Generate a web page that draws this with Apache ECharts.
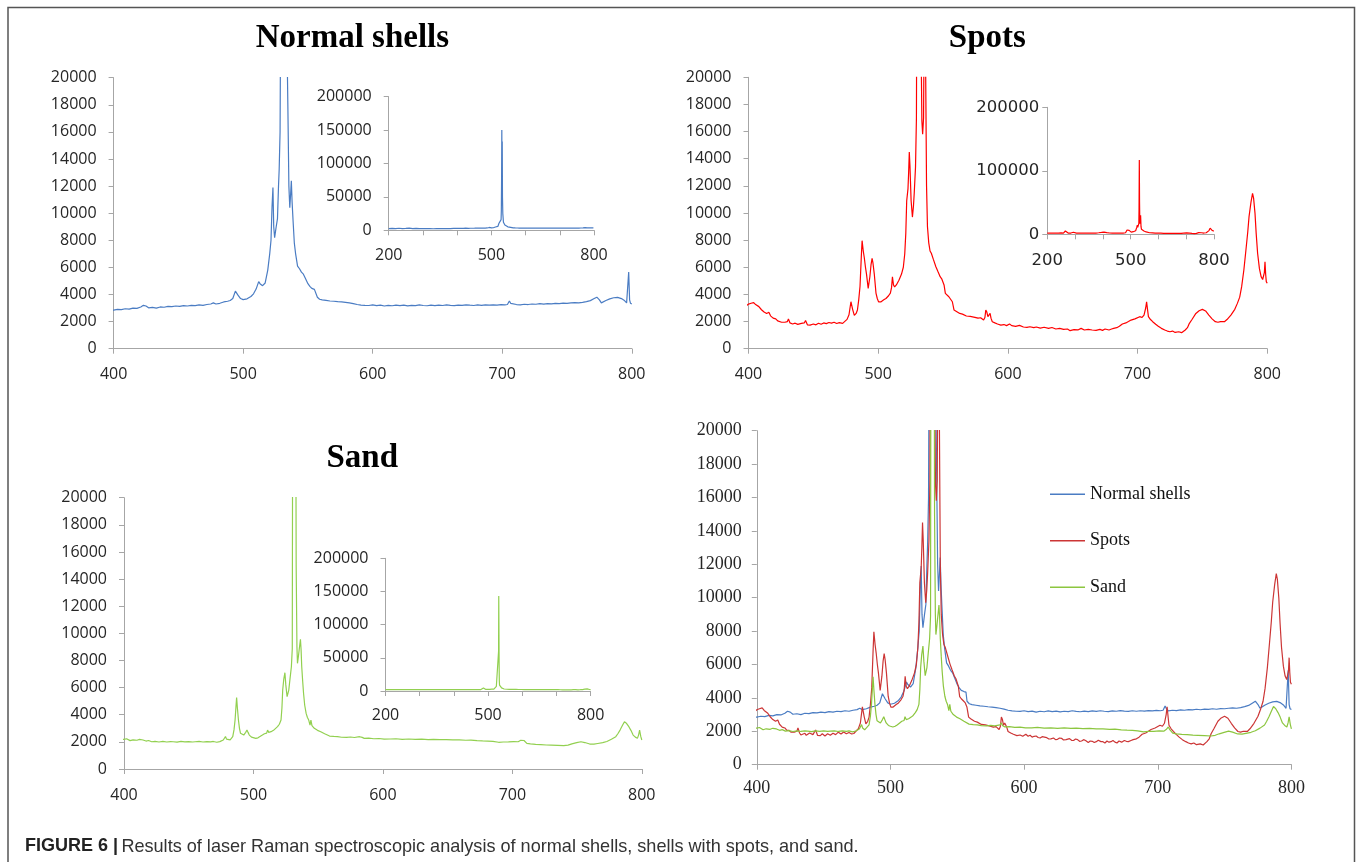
<!DOCTYPE html>
<html>
<head>
<meta charset="utf-8">
<script src="https://cdn.jsdelivr.net/npm/echarts@6/dist/echarts.min.js"></script>
<style>
html,body{margin:0;padding:0;background:#fff;}
#chart{width:1360px;height:862px;}
</style>
</head>
<body>
<div id="chart"></div>
<script>
// ---- DATA (Raman shift, intensity) ----
const normalShells = [
[200,2600],[210,2900],[220,2400],[230,3100],[240,2500],[250,2800],[260,3300],[270,2600],[280,2900],[290,2500],[300,2700],[310,2400],[320,2600],[330,2300],[340,2500],[350,2600],[360,2500],[370,2700],[380,2600],[390,2800],
[400,2850],[403,2900],[406,2880],[409,2950],[412,2920],[415,3000],[418,2980],[421,3080],[423,3200],[425,3150],[427,3020],[430,3050],[433,3000],[436,3080],[439,3060],[442,3120],[445,3100],[448,3150],[451,3120],[454,3180],[457,3150],[460,3200],[463,3180],[466,3230],[469,3200],[472,3260],[475,3300],[477,3380],[479,3300],[482,3350],[485,3450],[488,3500],[490,3560],[492,3700],[494,4250],[495,4350],[496,3950],[498,3700],[500,3620],[503,3680],[506,3850],[508,4050],[510,4400],[512,4950],[513,4800],[515,4650],[517,4850],[519,5800],[520.5,7000],[521.5,8000],[522.3,10500],[523,11900],[523.6,9000],[524.3,8200],[525.5,9000],[526.5,9600],[527.3,12000],[527.8,13200],[528.5,16000],[529.2,30000],[530,80000],[530.6,150000],[531.2,60000],[531.8,133000],[532.5,50000],[533.5,25000],[534.5,18000],[535.3,12000],[536,10400],[536.7,11500],[537.2,12400],[537.8,10800],[538.5,9500],[539.5,7800],[540.5,7000],[542,6100],[543.5,5900],[545,5650],[546.5,5500],[548,5200],[550,4800],[551.5,4600],[553,4450],[555,4380],[556.5,4350],[557.3,3800],[559,3650],[561,3600],[564,3560],[567,3520],[570,3500],[573,3470],[576,3450],[579,3420],[582,3380],[585,3330],[588,3260],[591,3220],[594,3200],[597,3190],[600,3230],
[603,3180],[606,3210],[609,3150],[612,3200],[615,3170],[618,3220],[621,3180],[624,3210],[627,3160],[630,3200],[633,3180],[636,3230],[639,3190],[642,3170],[645,3210],[648,3180],[651,3220],[654,3190],[657,3230],[660,3200],[663,3180],[666,3220],[669,3200],[672,3240],[675,3210],[678,3190],[681,3230],[684,3200],[687,3230],[690,3210],[693,3240],[696,3220],[699,3250],[702,3230],[704,3260],[705.5,3520],[706.5,3350],[708,3220],[711,3260],[714,3240],[717,3280],[720,3260],[723,3300],[726,3280],[729,3320],[732,3290],[735,3330],[738,3310],[741,3350],[744,3320],[747,3360],[750,3350],[753,3380],[756,3400],[759,3380],[762,3420],[765,3480],[768,3550],[771,3700],[773,3800],[774,3880],[775,3600],[776.5,3380],[778,3450],[780,3560],[783,3680],[786,3760],[789,3790],[792,3700],[794,3580],[796,3380],[797,3400],[797.6,5650],[798.3,3600],[799,3350],[800,3300]
];

const spots = [
[200,1800],[210,1900],[220,1700],[230,2000],[240,1800],[250,2100],[258,1900],[263,2200],[265,5200],[267,2100],[275,1900],[285,2000],[292,2400],[294,3200],[296,2200],[305,1900],[315,1700],[325,1800],[335,1700],[345,1900],[352,2300],[356,1900],[365,1800],[375,2000],[385,2400],[395,2900],
[400,3290],[402,3350],[404,3400],[405.5,3250],[406.7,3300],[408,3100],[410,2870],[412,2700],[414,2600],[415.7,2680],[417,2420],[419,2250],[421,2200],[422.5,2050],[424,2060],[425.5,1950],[426,2000],[428,1950],[429,1880],[430,2000],[430.8,2200],[432,1900],[433,1780],[434,1820],[436,1880],[437,1760],[438,1790],[439.5,1900],[440.8,1870],[442,1800],[443,1900],[444,2080],[445.5,1750],[447.5,1740],[449,1850],[450,1820],[451,1720],[452,1760],[453,1850],[454,1880],[455,1760],[456,1800],[457,1880],[458,1900],[459,1800],[460,1850],[461,1950],[462,1930],[463,1840],[464,1880],[465,1960],[466,1950],[467,1850],[468,1860],[469,1930],[470,1920],[471,1840],[472.6,1870],[474,1950],[476,2160],[477.5,2500],[479,3460],[480.3,2900],[481.6,2450],[483,2600],[484,2850],[485,3600],[486,4600],[487,6800],[487.6,7960],[488.5,7200],[489.3,6700],[490.2,6000],[491,5500],[492.3,4450],[493.6,5300],[494.5,6200],[495.3,6650],[496,6300],[497,5500],[498.3,4100],[499.3,3700],[500.3,3450],[502,3450],[504.3,3600],[506,3700],[508,3900],[509.4,4100],[510.3,4500],[511,5300],[511.8,4700],[512.7,4550],[514,4700],[516,5050],[518,5500],[519.4,6000],[520.5,7000],[521.3,8500],[522,10900],[523,11800],[523.5,13000],[524,14500],[524.5,13500],[525.4,10900],[526.4,9700],[527.2,10500],[527.8,11450],[528.8,13400],[529.5,17000],[530.2,40000],[531.2,117000],[532,50000],[532.8,25000],[533.7,16800],[534.3,15800],[535,17000],[535.8,30000],[536.5,22000],[537.3,12000],[538,9000],[539,7800],[540,7200],[541,7030],[542.5,6600],[544.5,6040],[546,5700],[547.8,5310],[549,5150],[549.8,5060],[550.8,4700],[551.8,4080],[553,3950],[554.5,3830],[556,3700],[557.2,3460],[558.5,2850],[560,2750],[562.9,2600],[565,2550],[568,2410],[571,2380],[574.6,2310],[577,2250],[579,2280],[581.3,2110],[582.3,2300],[583,2850],[583.8,2700],[584.6,2360],[585.5,2500],[586.3,2600],[587,2250],[588,1990],[590,1900],[592,1820],[594.6,1740],[597,1780],[599,1700],[601.3,1820],[603,1700],[604.5,1760],[606,1650],[607.5,1700],[609,1720],[610.5,1630],[612,1600],[613.5,1680],[614.7,1570],[617,1620],[618.5,1540],[620,1550],[621,1640],[622,1600],[623.5,1500],[625,1520],[626.5,1600],[628,1580],[629.5,1480],[631.4,1500],[632.5,1590],[634,1560],[635.5,1460],[637,1450],[638.5,1540],[640,1500],[641.5,1400],[643,1420],[644.5,1500],[646,1450],[648,1330],[649.5,1420],[651,1400],[652.5,1330],[654,1380],[655.5,1460],[656.5,1500],[657.5,1380],[659,1380],[660.5,1300],[662,1420],[663.5,1350],[665,1380],[666.5,1450],[668,1350],[669.5,1300],[671,1420],[672,1480],[673,1350],[674,1310],[675,1450],[676.5,1400],[678,1380],[680,1450],[681.6,1500],[684,1550],[686,1650],[688.3,1820],[691,1900],[693,2000],[695,2110],[698,2200],[701.7,2360],[703.5,2300],[705,2480],[706.3,3000],[707,3460],[707.7,2900],[708.4,2360],[710,2150],[711.7,1990],[714,1800],[716,1650],[718.4,1500],[721,1380],[723,1300],[725,1250],[727,1300],[729,1200],[731.8,1250],[734,1180],[736.8,1380],[738.5,1550],[740,1870],[742,2150],[745,2600],[747.5,2800],[750,2900],[752.5,2780],[755,2480],[757.5,2200],[760,1990],[762,1950],[764,2000],[767,1990],[769,2150],[772,2480],[775,2900],[777,3340],[778.8,3800],[780.3,4570],[782,5800],[783.6,7270],[785,8600],[786,9730],[787.5,10800],[788.7,11450],[789.5,11100],[790.6,9970],[791.5,8500],[792.6,7030],[794,5900],[795.3,5310],[796.5,5100],[797.3,5060],[797.8,5600],[798.3,6410],[798.8,5500],[799.3,4940],[800,4820]
];

const sand = [
[200,2100],[215,2150],[230,2050],[245,2100],[260,2000],[275,2080],[290,2000],[305,2050],[320,1980],[335,2050],[350,2000],[365,2080],[380,2050],[395,2150],
[400,2190],[402,2230],[404.7,2090],[407,2150],[410,2120],[412,2180],[414.7,2140],[417,2060],[419,2100],[421.4,2010],[424,2040],[427,1990],[430,2030],[433,1990],[436,2020],[438,2010],[441,1980],[444,2030],[447,2000],[450,2020],[453,1990],[455,2010],[458,2030],[461,1990],[464,2020],[467,2000],[469,2030],[471.7,1970],[474,2020],[476.7,2140],[477.7,2250],[478.4,2400],[479.2,2200],[480.7,2090],[482,2150],[484,2380],[485,2900],[485.8,3610],[486.5,4600],[487,5260],[487.6,4500],[488.4,3610],[489.2,3000],[490,2630],[491,2550],[492.5,2500],[494,2700],[495,2870],[495.8,2700],[496.8,2500],[498.5,2350],[500,2300],[501.8,2260],[503.5,2300],[505,2380],[506.9,2500],[508.5,2600],[510.2,2650],[510.9,2870],[511.8,2700],[513.6,2750],[515.5,2850],[517,2950],[518.6,3120],[520,3300],[521.3,3610],[522,4500],[522.6,5820],[523.4,6600],[524.3,7100],[525,6200],[526,5330],[526.6,5300],[527.3,5820],[528.3,6700],[529.3,7540],[530,8890],[530.8,60000],[531.3,143000],[531.8,100000],[532.4,40000],[533,15000],[533.6,9000],[534,7790],[534.6,8200],[535.3,8770],[536.3,9560],[536.8,8800],[537.3,7540],[538,6500],[538.7,5580],[539.6,4700],[540.7,4100],[541.7,3800],[542.7,3610],[543.7,3240],[544.4,3610],[545.2,3200],[547,3000],[549.5,2850],[552,2750],[555,2600],[558.8,2430],[562,2400],[565,2380],[568,2340],[572,2330],[575,2360],[578,2320],[582,2380],[583,2500],[584,2330],[585.6,2260],[589,2280],[593,2230],[597,2250],[601,2200],[605.7,2210],[610,2230],[615,2190],[620,2210],[625,2180],[630,2200],[635,2170],[639,2190],[644,2160],[649,2170],[654,2140],[659,2150],[664,2120],[668,2130],[672.7,2090],[677,2070],[681,2060],[685,2030],[689.4,1970],[693,1990],[697,2000],[701,2020],[704.5,2010],[706.5,2120],[707.9,2260],[709,2100],[711.2,1890],[714,1850],[718,1820],[722,1800],[726.3,1770],[730,1760],[735,1740],[739.7,1720],[743,1760],[746,1850],[749.7,1940],[753,2010],[756,1950],[759.8,1840],[763,1830],[766,1880],[769.8,1940],[773,2030],[776.5,2190],[779.9,2380],[781.5,2600],[783.2,2870],[785,3200],[786.6,3490],[788.3,3350],[790,3120],[791.6,2850],[793.3,2500],[795,2350],[796.6,2260],[797.5,2500],[798.3,2870],[799.2,2400],[800,2140]
];

const panelTitles = ['Normal shells', 'Spots', 'Sand'];
const legendNames = ['Normal shells', 'Spots', 'Sand'];
const insetXLabels = [200, 500, 800];
const captionBold = 'FIGURE 6 |';
const captionText = 'Results of laser Raman spectroscopic analysis of normal shells, shells with spots, and sand.';

// ---- LAYOUT / STYLE ----
const AXIS_COLOR = '#a6a6a6';
const SANS = 'Open Sans';
const SERIF = 'Liberation Serif';

const grids = [
  {left:113.6, top:77.7, width:518.2, height:271},    // 0 normal main
  {left:388.7, top:96.7, width:205.3, height:133.6},  // 1 normal inset
  {left:748.5, top:77.3, width:518.7, height:271.4},  // 2 spots main
  {left:1047.3, top:107.3, width:166.7, height:127},  // 3 spots inset
  {left:124, top:497.7, width:517.8, height:271.3},   // 4 sand main
  {left:385.5, top:558.3, width:205.1, height:132.7}, // 5 sand inset
  {left:756.8, top:430.7, width:534.6, height:334}    // 6 combined
];

function xAxisCfg(gi, min, max, interval, font, size, margin, fmt) {
  return {
    type:'value', gridIndex:gi, min:min, max:max, interval:interval,
    axisLine:{show:true, onZero:false, lineStyle:{color:AXIS_COLOR, width:1}},
    axisTick:{show:true, length:5, inside:false, lineStyle:{color:AXIS_COLOR}},
    splitLine:{show:false},
    axisLabel:{fontFamily:font, fontSize:size, color:'#262626', margin:margin,
      formatter: fmt || (v => String(v))}
  };
}
function yAxisCfg(gi, max, interval, font, size, margin) {
  return {
    type:'value', gridIndex:gi, min:0, max:max, interval:interval,
    axisLine:{show:true, onZero:false, lineStyle:{color:AXIS_COLOR, width:1}},
    axisTick:{show:true, length:5, inside:false, lineStyle:{color:AXIS_COLOR}},
    splitLine:{show:false},
    axisLabel:{fontFamily:font, fontSize:size, color:'#262626', margin:margin,
      formatter: v => String(v)}
  };
}
const insetFmt = v => (insetXLabels.indexOf(v) >= 0 ? String(v) : '');

const xAxes = [
  xAxisCfg(0, 400, 800, 100, SANS, 16, 18),
  xAxisCfg(1, 200, 800, 100, SANS, 16, 17, insetFmt),
  xAxisCfg(2, 400, 800, 100, SANS, 16, 18),
  xAxisCfg(3, 200, 800, 100, 'DejaVu Sans', 16.5, 18, insetFmt),
  xAxisCfg(4, 400, 800, 100, SANS, 16, 18),
  xAxisCfg(5, 200, 800, 100, SANS, 16, 16, insetFmt),
  xAxisCfg(6, 400, 800, 100, SERIF, 18, 15)
];
const yAxes = [
  yAxisCfg(0, 20000, 2000, SANS, 16, 17),
  yAxisCfg(1, 200000, 50000, SANS, 16, 17),
  yAxisCfg(2, 20000, 2000, SANS, 16, 17),
  yAxisCfg(3, 200000, 100000, 'DejaVu Sans', 16.5, 8),
  yAxisCfg(4, 20000, 2000, SANS, 16, 17),
  yAxisCfg(5, 200000, 50000, SANS, 16, 17),
  yAxisCfg(6, 20000, 2000, SERIF, 18, 15)
];

function line(name, data, idx, color, width) {
  return {
    name:name, type:'line', data:data, xAxisIndex:idx, yAxisIndex:idx,
    showSymbol:false, symbol:'none', clip:true, silent:true,
    lineStyle:{color:color, width:width}, itemStyle:{color:color},
    animation:false
  };
}

const BLUE = '#4a7cc3', RED = '#ff0000', GREEN = '#92d050';
const C_BLUE = '#4a7cc3', C_RED = '#cc3535', C_GREEN = '#8cc63f';

const series = [
  line('ns-main', normalShells, 0, BLUE, 1.2),
  line('ns-inset', normalShells, 1, BLUE, 1.2),
  line('sp-main', spots, 2, RED, 1.2),
  line('sp-inset', spots, 3, RED, 1.2),
  line('sa-main', sand, 4, GREEN, 1.2),
  line('sa-inset', sand, 5, GREEN, 1.2),
  line(legendNames[0], normalShells, 6, C_BLUE, 1.2),
  line(legendNames[1], spots, 6, C_RED, 1.2),
  line(legendNames[2], sand, 6, C_GREEN, 1.2)
];

function titleText(txt, cx, cy) {
  return {type:'text', x:cx, y:cy, silent:true,
    style:{text:txt, fontFamily:SERIF, fontWeight:'bold', fontSize:33, fill:'#000',
      textAlign:'center', textVerticalAlign:'middle', align:'center', verticalAlign:'middle'}};
}

const option = {
  backgroundColor:'#ffffff',
  animation:false,
  grid: grids.map(g => Object.assign({containLabel:false}, g)),
  xAxis: xAxes,
  yAxis: yAxes,
  legend: {
    data: legendNames, orient:'vertical', left:1050, top:485.2, padding:0,
    icon:'rect', itemWidth:35, itemHeight:1.5, itemGap:28.5,
    textStyle:{fontFamily:SERIF, fontSize:18, color:'#111', height:18, lineHeight:18}
  },
  series: series,
  graphic: [
    {type:'polyline', silent:true, shape:{points:[[8,870],[8,7.5],[1354.5,7.5],[1354.5,870]]},
      style:{stroke:'#555', lineWidth:1.5, fill:null}},
    titleText(panelTitles[0], 352.4, 38),
    titleText(panelTitles[1], 987.3, 38),
    titleText(panelTitles[2], 362.3, 458),
    {type:'text', x:25, y:846.5, silent:true,
      style:{text:'{b|' + captionBold + '} {n|' + captionText + '}',
        textVerticalAlign:'middle', verticalAlign:'middle',
        rich:{
          b:{fontFamily:'Liberation Sans', fontWeight:'bold', fontSize:18, fill:'#222', color:'#222'},
          n:{fontFamily:'Liberation Sans', fontSize:18.1, fill:'#333', color:'#333'}
        }}}
  ]
};

const chart = echarts.init(document.getElementById('chart'), null, {renderer:'canvas', width:1360, height:862});
chart.setOption(option);
</script>
</body>
</html>
